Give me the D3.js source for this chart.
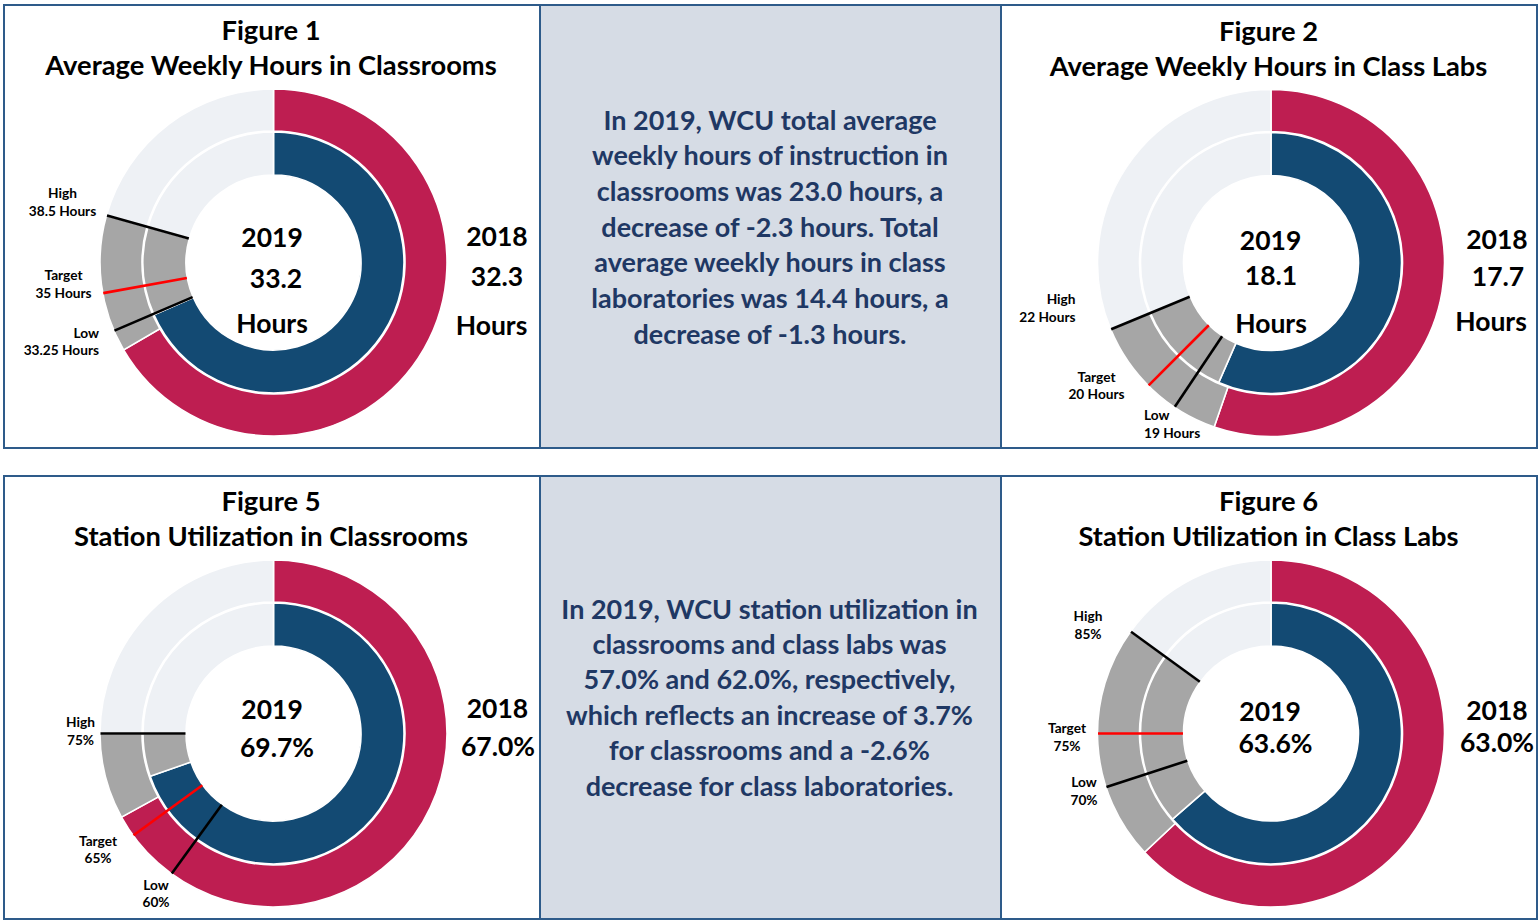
<!DOCTYPE html>
<html>
<head>
<meta charset="utf-8">
<script src="https://cdn.jsdelivr.net/npm/d3@7"></script>
<style>
  html, body { margin: 0; padding: 0; background: #ffffff; }
  svg { display: block; font-family: Lato, "Open Sans", sans-serif; font-weight: 700; }
</style>
</head>
<body>
<svg id="chart" width="1539" height="921"></svg>
<script>
// ---- data ----
const figureNumbers = ["Figure 1", "Figure 2", "Figure 5", "Figure 6"];
const figureTitles = [
  "Average Weekly Hours in Classrooms",
  "Average Weekly Hours in Class Labs",
  "Station Utilization in Classrooms",
  "Station Utilization in Class Labs"
];
const values2019 = [33.2, 18.1, 69.7, 63.6];
const values2018 = [32.3, 17.7, 67.0, 63.0];
const highValues = [38.5, 22, 75, 85];
const targetValues = [35, 20, 65, 75];
const lowValues = [33.25, 19, 60, 70];
const ringMax = [48.5, 32, 100, 100];      // value of one full turn of the ring
const unitKinds = ["hours", "hours", "percent", "percent"];
const yearLabels = ["2019", "2018"];
const markerNames = ["High", "Target", "Low"];

const summaryHours = [
  "In 2019, WCU total average",
  "weekly hours of instruction in",
  "classrooms was 23.0 hours, a",
  "decrease of -2.3 hours. Total",
  "average weekly hours in class",
  "laboratories was 14.4 hours, a",
  "decrease of -1.3 hours."
];
const summaryUtilization = [
  "In 2019, WCU station utilization in",
  "classrooms and class labs was",
  "57.0% and 62.0%, respectively,",
  "which reflects an increase of 3.7%",
  "for classrooms and a -2.6%",
  "decrease for class laboratories."
];

// ---- layout ----
const colors = {
  y2019: "#134A73", y2018: "#BE1E51", band: "#A6A6A6", rest: "#EEF1F5",
  border: "#2E5B8A", note: "#D6DCE5", noteText: "#1F3864",
  high: "#000000", target: "#FF0000", low: "#000000"
};
const rows = [{ y: 5, h: 443 }, { y: 476, h: 443 }];
const cols = [{ x: 4, w: 536 }, { x: 540, w: 461 }, { x: 1001, w: 536 }];
const centers = [[273.5, 262.5], [1271, 263], [273.5, 733.5], [1271, 733.5]];
const ringR = { outerOut: 173.5, outerIn: 131.5, innerOut: 130.5, innerIn: 87.5 };

// text offsets from each ring centre: [dx, dy] (dy = baseline)
const centerTextPos = [
  [[-1.5, -15.5], [2.5, 25], [-1.5, 70.5]],
  [[-0.5, -13.5], [0, 21.5], [0, 70]],
  [[-1.5, -15], [3.5, 23.5]],
  [[-1, -13], [4.5, 19]]
];
const sideTextPos = [
  [[223.5, -16.5], [223.5, 23], [218, 72.5]],
  [[226, -14.5], [227, 22.5], [220, 67.5]],
  [[224, -16], [224.5, 22]],
  [[226, -14], [226, 18]]
];
// marker label: [dx, dy of first baseline, anchor]
const markerLabelPos = [
  [[-211, -64.5, "middle"], [-210, 17.5, "middle"], [-174.5, 75, "end"]],
  [[-195.5, 41, "end"], [-174.5, 118.5, "middle"], [-127, 157, "start"]],
  [[-193, -6.5, "middle"], [-175.5, 112, "middle"], [-117.5, 156, "middle"]],
  [[-183, -112.5, "middle"], [-204, -0.5, "middle"], [-187, 53.5, "middle"]]
];

const svg = d3.select("#chart");

// panel frames
const frames = svg.append("g");
rows.forEach(r => cols.forEach((c, ci) => {
  frames.append("rect")
    .attr("x", c.x).attr("y", r.y).attr("width", c.w).attr("height", r.h)
    .attr("fill", ci === 1 ? colors.note : "#ffffff")
    .attr("stroke", colors.border).attr("stroke-width", 2);
}));

// summary notes in the middle column
function drawNote(lines, cx, firstBaseline, step) {
  svg.append("text")
    .attr("text-anchor", "middle")
    .attr("font-size", 27)
    .attr("fill", colors.noteText)
    .selectAll("tspan").data(lines).join("tspan")
    .attr("x", cx)
    .attr("y", (d, i) => firstBaseline + i * step)
    .text(d => d);
}
drawNote(summaryHours, 770, 129.5, 35.67);
drawNote(summaryUtilization, 769.5, 618.5, 35.4);

const fmt1 = d3.format(".1f");
const fmtValue = (v, kind) => kind === "percent" ? fmt1(v) + "%" : fmt1(v);
const fmtMarker = (v, kind) => kind === "percent" ? v + "%" : v + " Hours";

const pie = d3.pie().sort(null).value(d => d.v);

figureNumbers.forEach((num, i) => {
  const [cx, cy] = centers[i];
  const kind = unitKinds[i];
  const g = svg.append("g").attr("transform", `translate(${cx},${cy})`);

  // titles
  const title = g.append("text").attr("text-anchor", "middle").attr("font-size", 27.3).attr("fill", "#000");
  title.append("tspan").attr("x", -2.5).attr("y", -222.5).text(num);
  title.append("tspan").attr("x", -2.5).attr("y", -187.5).text(figureTitles[i]);

  const angle = d3.scaleLinear().domain([0, ringMax[i]]).range([0, 2 * Math.PI]);

  const rings = [
    { value: values2018[i], color: colors.y2018, r0: ringR.outerIn, r1: ringR.outerOut },
    { value: values2019[i], color: colors.y2019, r0: ringR.innerIn, r1: ringR.innerOut }
  ];
  rings.forEach(ring => {
    const parts = [
      { v: ring.value, c: ring.color },
      { v: highValues[i] - ring.value, c: colors.band },
      { v: ringMax[i] - highValues[i], c: colors.rest }
    ];
    const arc = d3.arc().innerRadius(ring.r0).outerRadius(ring.r1);
    g.append("g").selectAll("path").data(pie(parts)).join("path")
      .attr("d", arc)
      .attr("fill", d => d.data.c)
      .attr("stroke", "#ffffff").attr("stroke-width", 1.6)
      .attr("stroke-linejoin", "miter");
  });

  // high / target / low markers across both rings
  const markers = [
    { v: highValues[i], c: colors.high },
    { v: targetValues[i], c: colors.target },
    { v: lowValues[i], c: colors.low }
  ];
  markers.forEach((m, k) => {
    const a = angle(m.v);
    const p0 = d3.pointRadial(a, ringR.innerIn + 0.5);
    const p1 = d3.pointRadial(a, ringR.outerOut - 0.5);
    g.append("line")
      .attr("x1", p0[0]).attr("y1", p0[1]).attr("x2", p1[0]).attr("y2", p1[1])
      .attr("stroke", m.c).attr("stroke-width", 2.6);

    const [lx, ly, anchor] = markerLabelPos[i][k];
    const t = g.append("text").attr("text-anchor", anchor).attr("font-size", 13.7).attr("fill", "#000");
    t.append("tspan").attr("x", lx).attr("y", ly).text(markerNames[k]);
    t.append("tspan").attr("x", lx).attr("y", ly + 17.5).text(fmtMarker(m.v, kind));
  });

  // value labels: 2019 in the hole, 2018 beside the ring
  const centreLines = [yearLabels[0], fmtValue(values2019[i], kind)];
  const sideLines = [yearLabels[1], fmtValue(values2018[i], kind)];
  if (kind === "hours") { centreLines.push("Hours"); sideLines.push("Hours"); }

  [[centreLines, centerTextPos[i]], [sideLines, sideTextPos[i]]].forEach(([lines, pos]) => {
    g.append("g").selectAll("text").data(lines).join("text")
      .attr("text-anchor", "middle")
      .attr("font-size", 26.5)
      .attr("fill", "#000")
      .attr("x", (d, j) => pos[j][0])
      .attr("y", (d, j) => pos[j][1])
      .text(d => d);
  });
});
</script>
</body>
</html>
